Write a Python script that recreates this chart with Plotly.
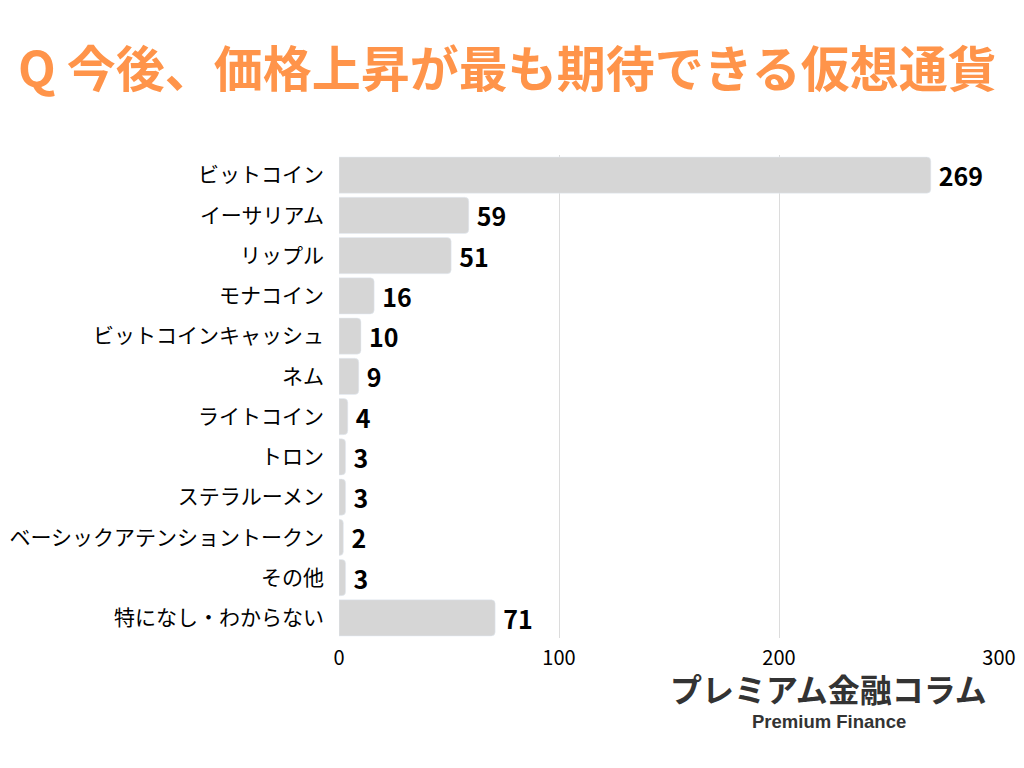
import plotly.graph_objects as go

# survey answers (top to bottom)
coins = ['ビットコイン', 'イーサリアム', 'リップル', 'モナコイン', 'ビットコインキャッシュ',
         'ネム', 'ライトコイン', 'トロン', 'ステラルーメン', 'ベーシックアテンショントークン',
         'その他', '特になし・わからない']
votes = [269, 59, 51, 16, 10, 9, 4, 3, 3, 2, 3, 71]
x_ticks = [0, 100, 200, 300]

title_text = 'Q 今後、価格上昇が最も期待できる仮想通貨'
font_jp = 'Noto Sans CJK JP'

# page is drawn with an 8px body margin, so margins are shifted by that
fig = go.Figure()
fig.add_trace(go.Bar(
    x=votes, y=coins, orientation='h',
    marker=dict(color='#D6D6D6', cornerradius=4),
    width=0.9,
    text=votes, texttemplate='\u2009%{text}', textposition='outside', cliponaxis=False,
    textfont=dict(family=font_jp, size=25, color='black', weight='bold'),
))

fig.update_layout(
    width=1024, height=768,
    paper_bgcolor='white', plot_bgcolor='white',
    margin=dict(l=331, r=33, t=147, b=138),
    showlegend=False,
    font=dict(family=font_jp, color='black'),
    title=dict(text=title_text, x=10 / 1024, xanchor='left', y=1 - 62 / 768, yanchor='middle',
               font=dict(family=font_jp, size=49, color='#FF944A', weight='bold')),
)
fig.update_xaxes(range=[0, 300], tickvals=x_ticks, showgrid=True, gridcolor='#DCDCDC',
                 gridwidth=1, zeroline=False, showline=False, automargin=False,
                 tickfont=dict(family=font_jp, size=20, color='black'), ticklabelstandoff=6)
fig.update_yaxes(autorange='reversed', showgrid=False, zeroline=False, showline=False,
                 automargin=False,
                 tickfont=dict(family=font_jp, size=21, color='black'), ticklabelstandoff=14)

# logo in the bottom right (positions given in page pixels, converted to paper coords)
fig.add_annotation(text='プレミアム金融コラム', x=828, y=688,
                   font=dict(family=font_jp, size=32, color='#333333', weight='bold'))
fig.add_annotation(text='Premium Finance', x=829, y=721,
                   font=dict(family='Liberation Sans', size=18.5, color='#333333', weight='bold'))
for a in fig.layout.annotations:
    a.update(xref='paper', yref='paper', showarrow=False,
             x=(a.x - 339) / 660, y=(638 - a.y) / 483,
             xanchor='center', yanchor='middle')

fig.write_html('out.html')
